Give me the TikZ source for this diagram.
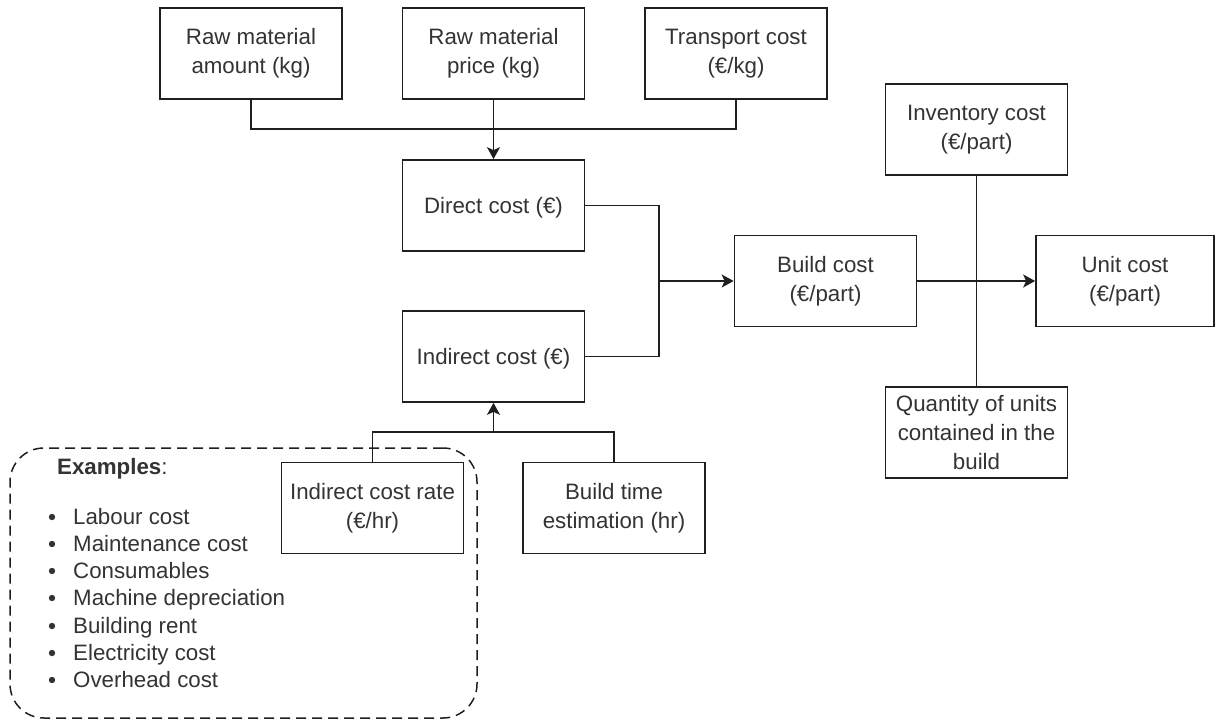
\documentclass[tikz,border=0pt]{standalone}
\usepackage{fontspec}
\setmainfont{Liberation Sans}
\usetikzlibrary{arrows.meta}
\definecolor{ink}{HTML}{1F1F1F}
\definecolor{txt}{HTML}{333333}
\begin{document}
\begin{tikzpicture}[x=1pt,y=-1pt,
  box/.style={draw=ink, line width=1.7pt, fill=white, minimum width=182pt,
    minimum height=91pt, inner sep=0pt, align=center, text=txt,
    font=\fontsize{22.3}{29}\selectfont,
    execute at begin node={\rule{0pt}{21.5pt}}},
  link/.style={draw=ink, line width=1.7pt},
  arrow/.style={link, -{Stealth[length=12pt,width=13pt,inset=3pt]}},
  lbl/.style={anchor=base west, inner sep=0pt, text=txt,
    font=\fontsize{22.3}{27}\selectfont},
  bullet/.style={fill=txt}]

\useasboundingbox (0,0) rectangle (1215,720);

% dashed group holding the list of indirect cost examples
\node[draw=ink, line width=1.5pt, dash pattern=on 10pt off 6pt,
  rounded corners=34pt, minimum width=467pt, minimum height=270pt,
  inner sep=0pt] (examples) at (243.5,583) {};

% cost items
\node[box] (amount)    at (251,53.5)    {Raw material\\amount (kg)};
\node[box] (price)     at (493.5,53.5)  {Raw material\\price (kg)};
\node[box] (transport) at (736,53.5)    {Transport cost\\(€/kg)};
\node[box] (direct)    at (493.5,205.5) {Direct cost (€)};
\node[box] (indirect)  at (493.5,356.5) {Indirect cost (€)};
\node[box] (rate)      at (372.5,508)   {Indirect cost rate\\(€/hr)};
\node[box] (time)      at (614,508)     {Build time\\estimation (hr)};
\node[box] (build)     at (825.5,281)   {Build cost\\(€/part)};
\node[box, minimum width=178pt] (unit) at (1125,281) {Unit cost\\(€/part)};
\node[box] (inventory) at (976.5,129.5) {Inventory cost\\(€/part)};
\node[box] (quantity)  at (976.5,432.5) {Quantity of units\\contained in the\\build};

% raw material inputs merge into the direct cost
\coordinate (tj) at (493.5,129);
\draw[link] (amount.south) |- (tj);
\draw[link] (transport.south) |- (tj);
\draw[arrow] (price.south) -- (direct.north);

% direct and indirect cost merge into the build cost
\coordinate (mj) at (659,281);
\draw[link] (direct.east) -| (mj);
\draw[link] (indirect.east) -| (mj);
\draw[arrow] (mj) -- (build.west);

% rate and time give the indirect cost
\coordinate (bj) at (493.5,432);
\draw[link] (rate.north) |- (bj);
\draw[link] (time.north) |- (bj);
\draw[arrow] (bj) -- (indirect.south);

% build cost to unit cost, crossed by inventory / quantity line
\draw[arrow] (build.east) -- (unit.west);
\draw[link] (inventory.south) -- (quantity.north);

% examples list
\node[lbl] (exhead) at (57,474) {\textbf{Examples}:};
\node[lbl] (ex1) at (73,524) {Labour cost};
\node[lbl] (ex2) at (73,551) {Maintenance cost};
\node[lbl] (ex3) at (73,578) {Consumables};
\node[lbl] (ex4) at (73,605) {Machine depreciation};
\node[lbl] (ex5) at (73,633) {Building rent};
\node[lbl] (ex6) at (73,660) {Electricity cost};
\node[lbl] (ex7) at (73,687) {Overhead cost};

% list bullets, centred on the x-height of each line
\foreach \item in {ex1,ex2,ex3,ex4,ex5,ex6,ex7}
  \fill[bullet] ([shift={(-21pt,7pt)}]\item.base west) circle (3.2pt);
\end{tikzpicture}
\end{document}
